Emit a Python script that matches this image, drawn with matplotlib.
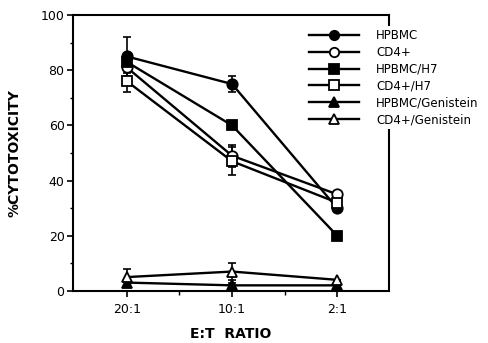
import matplotlib.pyplot as plt
import numpy as np

ratios = ['20:1', '10:1', '2:1']
labels = ['HPBMC', 'CD4+', 'HPBMC/H7', 'CD4+/H7', 'HPBMC/Genistein', 'CD4+/Genistein']
hpbmc = [85, 75, 30]
cd4 = [81, 49, 35]
hpbmc_h7 = [83, 60, 20]
cd4_h7 = [76, 47, 32]
hpbmc_gen = [3, 2, 2]
cd4_gen = [5, 7, 4]
err_hpbmc = [7, 3, 0]
err_cd4 = [2, 4, 0]
err_hpbmc_h7 = [0, 0, 0]
err_cd4_h7 = [4, 5, 0]
err_hpbmc_gen = [1, 1, 0]
err_cd4_gen = [3, 3, 0]

series = [hpbmc, cd4, hpbmc_h7, cd4_h7, hpbmc_gen, cd4_gen]
errors = [err_hpbmc, err_cd4, err_hpbmc_h7, err_cd4_h7, err_hpbmc_gen, err_cd4_gen]
markers = ['o', 'o', 's', 's', '^', '^']
faces = ['black', 'white', 'black', 'white', 'black', 'white']

fig = plt.figure(figsize=(4.89, 3.43), dpi=100)
ax = fig.add_axes([0.149, 0.152, 0.647, 0.804])
x = np.arange(len(ratios))

handles = []
for vals, err, m, fc, lab in zip(series, errors, markers, faces, labels):
    ax.errorbar(x, vals, yerr=err, fmt='none', ecolor='black', elinewidth=1.2,
                capsize=3, capthick=1.2, zorder=2)
    h, = ax.plot(x, vals, color='black', lw=1.7, marker=m, markersize=7.5,
                 markerfacecolor=fc, markeredgecolor='black', markeredgewidth=1.3,
                 label=lab, zorder=3)
    handles.append(h)

ax.set_xlim(-0.514, 2.495)
ax.set_ylim(0, 100)
ax.set_xticks(x)
ax.set_xticklabels(ratios, fontsize=9)
ax.set_xticks([0.5, 1.5], minor=True)
ax.set_yticks(np.arange(0, 101, 20))
ax.set_yticks(np.arange(10, 100, 20), minor=True)
ax.tick_params(axis='y', labelsize=9, direction='out', length=4, width=1.2, pad=2)
ax.tick_params(axis='y', which='minor', length=2, width=1)
ax.tick_params(axis='x', direction='out', length=4, width=1.2, pad=5)
ax.tick_params(axis='x', which='minor', length=3, width=1)
for s in ax.spines.values():
    s.set_linewidth(1.5)

ax.set_ylabel('%CYTOTOXICITY', fontsize=10, fontweight='bold', labelpad=14)
ax.set_xlabel('E:T  RATIO', fontsize=10, fontweight='bold', labelpad=8)

leg = fig.legend(handles=handles, loc='upper left', bbox_to_anchor=(0.615, 0.94),
                 frameon=True, fontsize=8.5, handlelength=4.2, handletextpad=1.5,
                 labelspacing=0.33, borderpad=0.2, markerscale=0.9)
leg.get_frame().set_edgecolor('none')
leg.get_frame().set_facecolor('white')
leg.get_frame().set_alpha(1)
leg.set_zorder(10)

fig.savefig('out.png', dpi=100)
